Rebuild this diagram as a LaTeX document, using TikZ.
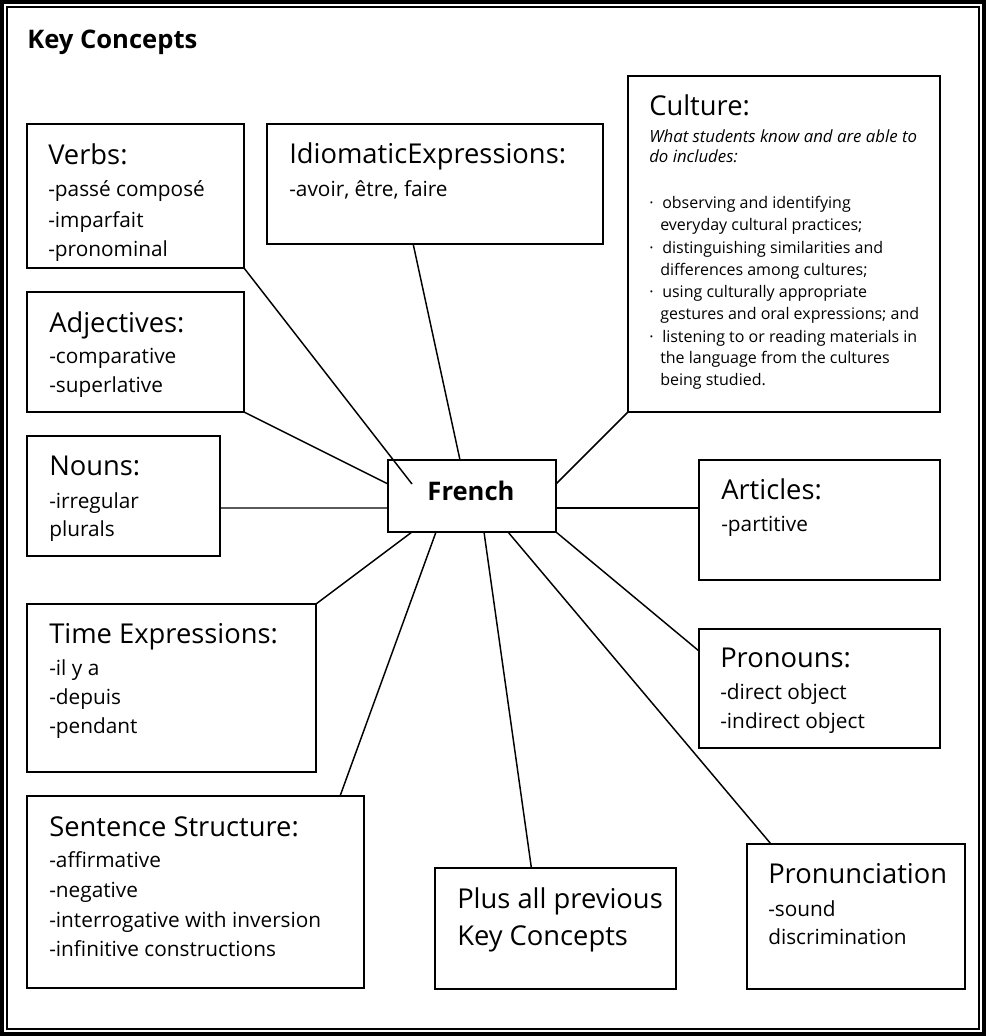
\documentclass[tikz,border=0pt]{standalone}
\usepackage{fontspec}
\setmainfont{Open Sans}
\usetikzlibrary{calc}
\begin{document}
\begin{tikzpicture}[x=0.75pt,y=-0.75pt,
  box/.style={draw, line width=1.5pt, anchor=north west, inner sep=0pt, outer sep=0pt},
  hd/.style={anchor=base west, inner sep=0pt, font=\fontsize{20.5}{23}\selectfont},
  bd/.style={anchor=base west, inner sep=0pt, font=\fontsize{15.6}{18}\selectfont},
  it/.style={anchor=base west, inner sep=0pt, font=\fontsize{12.6}{15}\selectfont\itshape},
  sm/.style={anchor=base west, inner sep=0pt, font=\fontsize{12}{14}\selectfont},
  bigb/.style={inner sep=0pt, font=\fontsize{19.2}{22}\selectfont\bfseries},
  link/.style={line width=1.1pt}]
\useasboundingbox (0,0) rectangle (996,1036);
% frame
\draw[line width=3pt] (2,2) rectangle (984,1034);
\draw[line width=1.5pt] (7,7) rectangle (979,1029);
% title
\node[bigb, anchor=base west] (title) at (27,48) {Key Concepts};
% boxes
\node[box, minimum width=217*0.75pt, minimum height=144*0.75pt] (verbs) at (27,124) {};
\node[box, minimum width=336*0.75pt, minimum height=120*0.75pt] (idiom) at (267,124) {};
\node[box, minimum width=312*0.75pt, minimum height=336*0.75pt] (culture) at (628,76) {};
\node[box, minimum width=217*0.75pt, minimum height=120*0.75pt] (adj) at (27,292) {};
\node[box, minimum width=193*0.75pt, minimum height=120*0.75pt] (nouns) at (27,436) {};
\node[box, minimum width=168*0.75pt, minimum height=72*0.75pt] (french) at (388,460) {};
\node[box, minimum width=241*0.75pt, minimum height=120*0.75pt] (articles) at (699,460) {};
\node[box, minimum width=241*0.75pt, minimum height=119*0.75pt] (pronouns) at (699,629) {};
\node[box, minimum width=289*0.75pt, minimum height=168*0.75pt] (time) at (27,604) {};
\node[box, minimum width=337*0.75pt, minimum height=192*0.75pt] (sentence) at (27,796) {};
\node[box, minimum width=241*0.75pt, minimum height=121*0.75pt] (plus) at (435,868) {};
\node[box, minimum width=218*0.75pt, minimum height=145*0.75pt] (pron) at (747,844) {};
% connectors
\coordinate (verbsend) at (412,484);
\draw[link] (verbs.south east) -- (verbsend);
\draw[link] ($(idiom.south west)!0.435!(idiom.south east)$) -- ($(french.north west)!3/7!(french.north east)$);
\draw[link] (adj.south east) -- ($(french.north west)!1/3!(french.south west)$);
\draw[link] ($(nouns.north east)!0.6!(nouns.south east)$) -- ($(french.north west)!2/3!(french.south west)$);
\draw[link] (culture.south west) -- ($(french.north east)!1/3!(french.south east)$);
\draw[link] ($(french.north east)!2/3!(french.south east)$) -- ($(articles.north west)!0.4!(articles.south west)$);
\draw[link] ($(pronouns.north west)!0.185!(pronouns.south west)$) -- (french.south east);
\draw[link] (time.north east) -- ($(french.south west)!1/7!(french.south east)$);
\draw[link] ($(sentence.north west)!0.929!(sentence.north east)$) -- ($(french.south west)!2/7!(french.south east)$);
\draw[link] ($(plus.north west)!0.4!(plus.north east)$) -- ($(french.south west)!4/7!(french.south east)$);
\draw[link] ($(pron.north west)!0.11!(pron.north east)$) -- ($(french.south west)!5/7!(french.south east)$);
% French
\node[bigb, anchor=base] (frencht) at (471,500) {French};
% Verbs
\node[hd] (verbsh) at (48,164) {Verbs:};
\node[bd] (verbs1) at (48,196) {-passé composé};
\node[bd] (verbs2) at (48,227) {-imparfait};
\node[bd] (verbs3) at (48,256) {-pronominal};
% Idiomatic
\node[hd] (idiomh) at (289,163) {IdiomaticExpressions:};
\node[bd] (idiom1) at (289,196) {-avoir, être, faire};
% Culture
\node[hd] (cultureh) at (649,115) {Culture:};
\node[it] (culturei1) at (649,142) {What students know and are able to};
\node[it] (culturei2) at (649,162) {do includes:};
\node[sm] (cb1) at (649,208) {\makebox[9.75pt][l]{·}observing and identifying};
\node[sm] (cb1b) at (660,230) {everyday cultural practices;};
\node[sm] (cb2) at (649,253) {\makebox[9.75pt][l]{·}distinguishing similarities and};
\node[sm] (cb2b) at (660,275) {differences among cultures;};
\node[sm] (cb3) at (649,297) {\makebox[9.75pt][l]{·}using culturally appropriate};
\node[sm] (cb3b) at (660,319) {gestures and oral expressions; and};
\node[sm] (cb4) at (649,342) {\makebox[9.75pt][l]{·}listening to or reading materials in};
\node[sm] (cb4b) at (660,363) {the language from the cultures};
\node[sm] (cb4c) at (660,385) {being studied.};
% Adjectives
\node[hd] (adjh) at (49,332) {Adjectives:};
\node[bd] (adj1) at (49,363) {-comparative};
\node[bd] (adj2) at (49,392) {-superlative};
% Nouns
\node[hd] (nounsh) at (49,475) {Nouns:};
\node[bd] (nouns1) at (49,508) {-irregular};
\node[bd] (nouns2) at (49,536) {plurals};
% Articles
\node[hd] (articlesh) at (721,499) {Articles:};
\node[bd] (articles1) at (721,531) {-partitive};
% Pronouns
\node[hd] (pronounsh) at (720,667) {Pronouns:};
\node[bd] (pronouns1) at (720,699) {-direct object};
\node[bd] (pronouns2) at (720,728) {-indirect object};
% Time
\node[hd] (timeh) at (49,643) {Time Expressions:};
\node[bd] (time1) at (49,675) {-il y a};
\node[bd] (time2) at (49,704) {-depuis};
\node[bd] (time3) at (49,733) {-pendant};
% Sentence
\node[hd] (sentenceh) at (49,836) {Sentence Structure:};
\node[bd] (sentence1) at (49,867) {-affirmative};
\node[bd] (sentence2) at (49,897) {-negative};
\node[bd] (sentence3) at (49,927) {-interrogative with inversion};
\node[bd] (sentence4) at (49,956) {-infinitive constructions};
% Plus
\node[hd] (plus1) at (457,908) {Plus all previous};
\node[hd] (plus2) at (457,945) {Key Concepts};
% Pronunciation
\node[hd] (pronh) at (768,883) {Pronunciation};
\node[bd] (pron1) at (768,916) {-sound};
\node[bd] (pron2) at (768,944) {discrimination};
\end{tikzpicture}
\end{document}
